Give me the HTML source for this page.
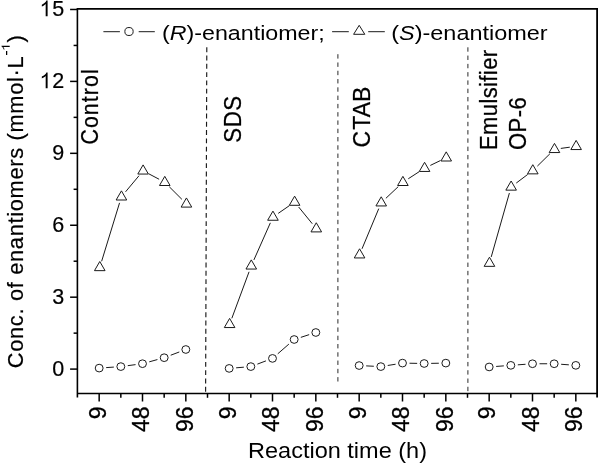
<!DOCTYPE html>
<html><head><meta charset="utf-8"><title>Chart</title>
<style>html,body{margin:0;padding:0;background:#fff;}body{width:598px;height:463px;overflow:hidden;}svg{display:block;}text{font-family:"Liberation Sans",sans-serif;fill:#000;}</style></head><body>
<svg style="filter:grayscale(1)" width="598" height="463" viewBox="0 0 598 463">
<rect x="0" y="0" width="598" height="463" fill="#fff"/>
<g stroke="#000" stroke-width="1.6" fill="none" stroke-linecap="butt">
<line x1="77.4" y1="8.049999999999999" x2="77.4" y2="397.6"/>
<line x1="77.4" y1="8.85" x2="598" y2="8.85"/>
<line x1="77.4" y1="393.45" x2="598" y2="393.45"/>
</g>
<line x1="597.4" y1="8.049999999999999" x2="597.4" y2="397.6" stroke="#000" stroke-width="2.4"/>
<g stroke="#000" stroke-width="1.5">
<line x1="70.1" y1="369.10" x2="77.4" y2="369.10"/>
<line x1="70.1" y1="297.18" x2="77.4" y2="297.18"/>
<line x1="70.1" y1="225.25" x2="77.4" y2="225.25"/>
<line x1="70.1" y1="153.33" x2="77.4" y2="153.33"/>
<line x1="70.1" y1="81.40" x2="77.4" y2="81.40"/>
<line x1="70.1" y1="9.48" x2="77.4" y2="9.48"/>
<line x1="73.6" y1="333.14" x2="77.4" y2="333.14"/>
<line x1="73.6" y1="261.21" x2="77.4" y2="261.21"/>
<line x1="73.6" y1="189.29" x2="77.4" y2="189.29"/>
<line x1="73.6" y1="117.36" x2="77.4" y2="117.36"/>
<line x1="73.6" y1="45.44" x2="77.4" y2="45.44"/>
<line x1="99.17" y1="393.45" x2="99.17" y2="401.5"/>
<line x1="120.83" y1="393.45" x2="120.83" y2="397.8"/>
<line x1="142.50" y1="393.45" x2="142.50" y2="401.5"/>
<line x1="164.17" y1="393.45" x2="164.17" y2="397.8"/>
<line x1="185.83" y1="393.45" x2="185.83" y2="401.5"/>
<line x1="207.50" y1="393.45" x2="207.50" y2="397.8"/>
<line x1="229.17" y1="393.45" x2="229.17" y2="401.5"/>
<line x1="250.83" y1="393.45" x2="250.83" y2="397.8"/>
<line x1="272.50" y1="393.45" x2="272.50" y2="401.5"/>
<line x1="294.17" y1="393.45" x2="294.17" y2="397.8"/>
<line x1="315.83" y1="393.45" x2="315.83" y2="401.5"/>
<line x1="337.50" y1="393.45" x2="337.50" y2="397.8"/>
<line x1="359.17" y1="393.45" x2="359.17" y2="401.5"/>
<line x1="380.83" y1="393.45" x2="380.83" y2="397.8"/>
<line x1="402.50" y1="393.45" x2="402.50" y2="401.5"/>
<line x1="424.17" y1="393.45" x2="424.17" y2="397.8"/>
<line x1="445.83" y1="393.45" x2="445.83" y2="401.5"/>
<line x1="467.50" y1="393.45" x2="467.50" y2="397.8"/>
<line x1="489.17" y1="393.45" x2="489.17" y2="401.5"/>
<line x1="510.83" y1="393.45" x2="510.83" y2="397.8"/>
<line x1="532.50" y1="393.45" x2="532.50" y2="401.5"/>
<line x1="554.17" y1="393.45" x2="554.17" y2="397.8"/>
<line x1="575.83" y1="393.45" x2="575.83" y2="401.5"/>
</g>
<g stroke="#2a2a2a" stroke-width="1" stroke-dasharray="4.4 3.88">
<line x1="206.8" y1="47.3" x2="205.6" y2="393" stroke="#1a1a1a" stroke-width="1.15" stroke-dasharray="4.9 3.38"/>
<line x1="337.9" y1="54.2" x2="337.9" y2="383.3"/>
<line x1="467.9" y1="47.3" x2="467.9" y2="393"/>
</g>
<g stroke="#1a1a1a" stroke-width="1" fill="none" stroke-linejoin="miter">
<line x1="101.64" y1="261.28" x2="119.56" y2="202.87"/>
<line x1="125.54" y1="191.84" x2="139.00" y2="175.71"/>
<line x1="148.76" y1="173.79" x2="159.11" y2="179.26"/>
<line x1="169.30" y1="186.77" x2="181.90" y2="199.33"/>
<path d="M99.77 261.50L94.47 270.65L105.07 270.65Z" fill="#fff"/>
<path d="M121.43 190.85L116.13 200.00L126.73 200.00Z" fill="#fff"/>
<path d="M143.10 164.90L137.80 174.05L148.40 174.05Z" fill="#fff"/>
<path d="M164.77 176.35L159.47 185.50L170.07 185.50Z" fill="#fff"/>
<path d="M186.43 197.95L181.13 207.10L191.73 207.10Z" fill="#fff"/>
<line x1="106.15" y1="367.62" x2="113.85" y2="367.08"/>
<line x1="127.77" y1="365.67" x2="135.56" y2="364.63"/>
<line x1="149.25" y1="361.83" x2="157.42" y2="359.57"/>
<line x1="170.71" y1="355.22" x2="179.29" y2="351.98"/>
<ellipse cx="99.17" cy="368.10" rx="3.95" ry="3.85" fill="#fff"/>
<ellipse cx="120.83" cy="366.60" rx="3.95" ry="3.85" fill="#fff"/>
<ellipse cx="142.50" cy="363.70" rx="3.95" ry="3.85" fill="#fff"/>
<ellipse cx="164.17" cy="357.70" rx="3.95" ry="3.85" fill="#fff"/>
<ellipse cx="185.83" cy="349.50" rx="3.95" ry="3.85" fill="#fff"/>
<line x1="231.84" y1="318.30" x2="249.06" y2="271.80"/>
<line x1="253.88" y1="259.95" x2="270.35" y2="222.85"/>
<line x1="278.22" y1="213.37" x2="289.35" y2="205.68"/>
<line x1="298.66" y1="207.01" x2="312.24" y2="223.69"/>
<path d="M229.62 318.40L224.32 327.55L234.92 327.55Z" fill="#fff"/>
<path d="M251.28 259.90L245.98 269.05L256.58 269.05Z" fill="#fff"/>
<path d="M272.95 211.10L267.65 220.25L278.25 220.25Z" fill="#fff"/>
<path d="M294.62 196.15L289.32 205.30L299.92 205.30Z" fill="#fff"/>
<path d="M316.28 222.75L310.98 231.90L321.58 231.90Z" fill="#fff"/>
<line x1="236.14" y1="367.82" x2="243.86" y2="367.18"/>
<line x1="257.38" y1="364.12" x2="265.95" y2="360.88"/>
<line x1="277.78" y1="353.80" x2="288.89" y2="344.10"/>
<line x1="300.83" y1="337.35" x2="309.17" y2="334.65"/>
<ellipse cx="229.17" cy="368.40" rx="3.95" ry="3.85" fill="#fff"/>
<ellipse cx="250.83" cy="366.60" rx="3.95" ry="3.85" fill="#fff"/>
<ellipse cx="272.50" cy="358.40" rx="3.95" ry="3.85" fill="#fff"/>
<ellipse cx="294.17" cy="339.50" rx="3.95" ry="3.85" fill="#fff"/>
<ellipse cx="315.83" cy="332.50" rx="3.95" ry="3.85" fill="#fff"/>
<line x1="362.03" y1="248.79" x2="378.77" y2="208.61"/>
<line x1="385.89" y1="198.31" x2="398.25" y2="186.64"/>
<line x1="408.27" y1="178.77" x2="419.20" y2="171.68"/>
<line x1="430.33" y1="165.42" x2="440.47" y2="160.53"/>
<path d="M359.57 248.80L354.27 257.95L364.87 257.95Z" fill="#fff"/>
<path d="M381.23 196.80L375.93 205.95L386.53 205.95Z" fill="#fff"/>
<path d="M402.90 176.35L397.60 185.50L408.20 185.50Z" fill="#fff"/>
<path d="M424.57 162.30L419.27 171.45L429.87 171.45Z" fill="#fff"/>
<path d="M446.23 151.85L440.93 161.00L451.53 161.00Z" fill="#fff"/>
<line x1="366.16" y1="365.89" x2="373.84" y2="366.26"/>
<line x1="387.74" y1="365.48" x2="395.59" y2="364.22"/>
<line x1="409.50" y1="363.23" x2="417.17" y2="363.37"/>
<line x1="431.17" y1="363.37" x2="438.84" y2="363.23"/>
<ellipse cx="359.17" cy="365.55" rx="3.95" ry="3.85" fill="#fff"/>
<ellipse cx="380.83" cy="366.60" rx="3.95" ry="3.85" fill="#fff"/>
<ellipse cx="402.50" cy="363.10" rx="3.95" ry="3.85" fill="#fff"/>
<ellipse cx="424.17" cy="363.50" rx="3.95" ry="3.85" fill="#fff"/>
<ellipse cx="445.83" cy="363.10" rx="3.95" ry="3.85" fill="#fff"/>
<line x1="491.22" y1="256.94" x2="509.38" y2="193.06"/>
<line x1="516.25" y1="183.05" x2="527.69" y2="174.45"/>
<line x1="537.36" y1="166.11" x2="549.90" y2="153.79"/>
<line x1="560.81" y1="148.42" x2="569.79" y2="147.18"/>
<path d="M489.47 257.20L484.17 266.35L494.77 266.35Z" fill="#fff"/>
<path d="M511.13 181.00L505.83 190.15L516.43 190.15Z" fill="#fff"/>
<path d="M532.80 164.70L527.50 173.85L538.10 173.85Z" fill="#fff"/>
<path d="M554.47 143.40L549.17 152.55L559.77 152.55Z" fill="#fff"/>
<path d="M576.13 140.40L570.83 149.55L581.43 149.55Z" fill="#fff"/>
<line x1="496.15" y1="366.44" x2="503.85" y2="365.87"/>
<line x1="517.81" y1="364.83" x2="525.52" y2="364.27"/>
<line x1="539.50" y1="363.75" x2="547.17" y2="363.75"/>
<line x1="561.15" y1="364.27" x2="568.85" y2="364.83"/>
<ellipse cx="489.17" cy="366.96" rx="3.95" ry="3.85" fill="#fff"/>
<ellipse cx="510.83" cy="365.35" rx="3.95" ry="3.85" fill="#fff"/>
<ellipse cx="532.50" cy="363.75" rx="3.95" ry="3.85" fill="#fff"/>
<ellipse cx="554.17" cy="363.75" rx="3.95" ry="3.85" fill="#fff"/>
<ellipse cx="575.83" cy="365.35" rx="3.95" ry="3.85" fill="#fff"/>
<line x1="103.4" y1="31.7" x2="119.9" y2="31.7"/><line x1="138.7" y1="31.7" x2="154.8" y2="31.7"/>
<ellipse cx="129" cy="31.5" rx="4.15" ry="4.0" fill="#fff"/>
<line x1="332.1" y1="31.7" x2="348.8" y2="31.7"/><line x1="368.2" y1="31.7" x2="384.8" y2="31.7"/>
<path d="M359.2 25.3L353.6 34.3L364.8 34.3Z" fill="#fff"/>
</g>
<text x="0" y="0" font-size="22.8" text-anchor="end" transform="translate(64.2 376.00) scale(0.945 1)" stroke="#000" stroke-width="0.2">0</text>
<text x="0" y="0" font-size="22.8" text-anchor="end" transform="translate(64.2 304.07) scale(0.945 1)" stroke="#000" stroke-width="0.2">3</text>
<text x="0" y="0" font-size="22.8" text-anchor="end" transform="translate(64.2 232.15) scale(0.945 1)" stroke="#000" stroke-width="0.2">6</text>
<text x="0" y="0" font-size="22.8" text-anchor="end" transform="translate(64.2 160.23) scale(0.945 1)" stroke="#000" stroke-width="0.2">9</text>
<text x="0" y="0" font-size="22.8" text-anchor="end" transform="translate(64.2 88.30) scale(0.945 1)" stroke="#000" stroke-width="0.2">2</text>
<path d="M0.373,0L0.285,0L0.285,0.560C0.254,0.530 0.213,0.500 0.169,0.473C0.149,0.461 0.129,0.452 0.109,0.444L0.109,0.529C0.160,0.553 0.205,0.582 0.243,0.616C0.281,0.650 0.308,0.684 0.316,0.719L0.373,0.719Z" transform="translate(39.44 88.20) scale(21.9 -21.9)" fill="#000"/>
<text x="0" y="0" font-size="22.8" text-anchor="end" transform="translate(64.2 16.38) scale(0.945 1)" stroke="#000" stroke-width="0.2">5</text>
<path d="M0.373,0L0.285,0L0.285,0.560C0.254,0.530 0.213,0.500 0.169,0.473C0.149,0.461 0.129,0.452 0.109,0.444L0.109,0.529C0.160,0.553 0.205,0.582 0.243,0.616C0.281,0.650 0.308,0.684 0.316,0.719L0.373,0.719Z" transform="translate(39.44 16.28) scale(21.9 -21.9)" fill="#000"/>
<text transform="translate(105.97 406.6) scale(1.03 1) rotate(-90)" font-size="22.9" text-anchor="end" stroke="#000" stroke-width="0.3">9</text>
<text transform="translate(149.30 406.6) scale(1.03 1) rotate(-90)" font-size="22.9" text-anchor="end" stroke="#000" stroke-width="0.3">48</text>
<text transform="translate(192.63 406.6) scale(1.03 1) rotate(-90)" font-size="22.9" text-anchor="end" stroke="#000" stroke-width="0.3">96</text>
<text transform="translate(235.97 406.6) scale(1.03 1) rotate(-90)" font-size="22.9" text-anchor="end" stroke="#000" stroke-width="0.3">9</text>
<text transform="translate(279.30 406.6) scale(1.03 1) rotate(-90)" font-size="22.9" text-anchor="end" stroke="#000" stroke-width="0.3">48</text>
<text transform="translate(322.63 406.6) scale(1.03 1) rotate(-90)" font-size="22.9" text-anchor="end" stroke="#000" stroke-width="0.3">96</text>
<text transform="translate(365.97 406.6) scale(1.03 1) rotate(-90)" font-size="22.9" text-anchor="end" stroke="#000" stroke-width="0.3">9</text>
<text transform="translate(409.30 406.6) scale(1.03 1) rotate(-90)" font-size="22.9" text-anchor="end" stroke="#000" stroke-width="0.3">48</text>
<text transform="translate(452.63 406.6) scale(1.03 1) rotate(-90)" font-size="22.9" text-anchor="end" stroke="#000" stroke-width="0.3">96</text>
<text transform="translate(495.47 406.6) scale(1.03 1) rotate(-90)" font-size="22.9" text-anchor="end" stroke="#000" stroke-width="0.3">9</text>
<text transform="translate(538.80 406.6) scale(1.03 1) rotate(-90)" font-size="22.9" text-anchor="end" stroke="#000" stroke-width="0.3">48</text>
<text transform="translate(582.13 406.6) scale(1.03 1) rotate(-90)" font-size="22.9" text-anchor="end" stroke="#000" stroke-width="0.3">96</text>
<text transform="translate(98.35 144.6) scale(1.08 1) rotate(-90)" font-size="21.4" textLength="75.3" lengthAdjust="spacing" stroke="#000" stroke-width="0.25">Control</text>
<text transform="translate(241.2 142.7) scale(1.06 1) rotate(-90)" font-size="22.3" textLength="46.85" lengthAdjust="spacing" stroke="#000" stroke-width="0.25">SDS</text>
<text transform="translate(369.8 147.4) scale(1.06 1) rotate(-90)" font-size="23.0"  stroke="#000" stroke-width="0.25">C<tspan dx="1.1">TAB</tspan></text>
<text transform="translate(497.3 150) scale(1.09 1) rotate(-90)" font-size="22.0" textLength="100.1" lengthAdjust="spacing" stroke="#000" stroke-width="0.25">Emulsifier</text>
<text transform="translate(526.3 150) scale(1.09 1) rotate(-90)" font-size="22.0" textLength="52.7" lengthAdjust="spacing" stroke="#000" stroke-width="0.25">OP-6</text>
<text x="248" y="458" font-size="21.2" textLength="179" lengthAdjust="spacingAndGlyphs">Reaction time (h)</text>
<text x="162" y="40" font-size="20.5" textLength="162.7" lengthAdjust="spacingAndGlyphs">(<tspan font-style="italic">R</tspan>)-enantiomer;</text>
<text x="391.2" y="40" font-size="20.5" textLength="156.5" lengthAdjust="spacingAndGlyphs">(<tspan font-style="italic">S</tspan>)-enantiomer</text>
<g stroke="#000" stroke-width="0.2">
<text transform="translate(23.3 368.2) scale(1.05 1) rotate(-90)" font-size="21.8" textLength="311.8" lengthAdjust="spacing">Conc. of enantiomers (mmol·L</text>
<path d="M0.373,0L0.285,0L0.285,0.560C0.254,0.530 0.213,0.500 0.169,0.473C0.149,0.461 0.129,0.452 0.109,0.444L0.109,0.529C0.160,0.553 0.205,0.582 0.243,0.616C0.281,0.650 0.308,0.684 0.316,0.719L0.373,0.719Z" transform="translate(9.7 51.0) rotate(-90) scale(14 -11.4)" fill="#000" stroke="none"/>
<rect x="6.0" y="51.0" width="1.25" height="4.0" fill="#000" stroke="none"/>
<text transform="translate(22.8 42.5) scale(1.05 1) rotate(-90)" font-size="21.8">)</text>
</g>
</svg></body></html>
